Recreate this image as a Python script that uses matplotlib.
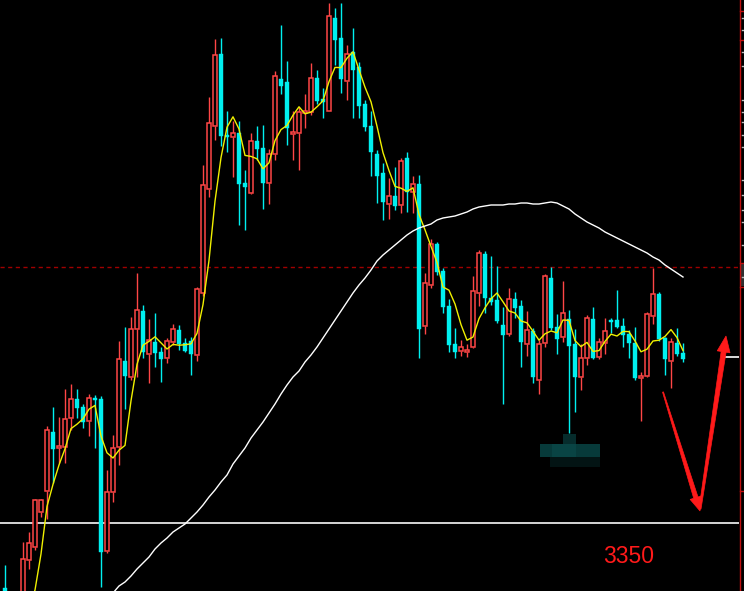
import numpy as np
import pandas as pd
import matplotlib
matplotlib.use("Agg")
import matplotlib.pyplot as plt
from matplotlib.patches import Polygon, Rectangle

# ---------------- data ----------------
opens = [3285, 3183, 3193, 3273, 3313, 3326, 3361, 3382, 3441, 3425,
         3426, 3455, 3474, 3466, 3452, 3475, 3474, 3322, 3381, 3426,
         3512, 3496, 3544, 3562, 3519, 3531, 3521, 3515, 3531, 3543,
         3530, 3532, 3518, 3580, 3684, 3747, 3819, 3738, 3736, 3740,
         3690, 3680, 3732, 3725, 3690, 3719, 3794, 3791, 3739, 3740,
         3760, 3761, 3795, 3774, 3762, 3855, 3835, 3792, 3821, 3806,
         3769, 3747, 3719, 3700, 3669, 3677, 3668, 3715, 3681, 3689,
         3547, 3588, 3629, 3602, 3567, 3529, 3522, 3521, 3526, 3580,
         3619, 3575, 3573, 3548, 3539, 3574, 3567, 3529, 3542, 3493,
         3530, 3595, 3546, 3536, 3554, 3529, 3496, 3515, 3554, 3516,
         3530, 3553, 3553, 3547, 3539, 3530, 3495, 3497, 3557, 3579,
         3535, 3512, 3530, 3520]
highs = [3308, 3197, 3213, 3331, 3341, 3374, 3374, 3447, 3466, 3456,
         3484, 3489, 3484, 3469, 3479, 3478, 3477, 3403, 3438, 3532,
         3546, 3556, 3600, 3568, 3554, 3560, 3526, 3535, 3549, 3548,
         3535, 3536, 3586, 3708, 3776, 3834, 3835, 3762, 3752, 3752,
         3703, 3740, 3747, 3748, 3724, 3802, 3848, 3812, 3762, 3766,
         3779, 3810, 3803, 3785, 3870, 3865, 3870, 3828, 3845, 3811,
         3773, 3762, 3723, 3710, 3695, 3706, 3715, 3721, 3697, 3698,
         3600, 3634, 3631, 3605, 3574, 3545, 3533, 3529, 3597, 3623,
         3622, 3617, 3607, 3566, 3585, 3581, 3573, 3562, 3545, 3533,
         3599, 3606, 3559, 3592, 3563, 3544, 3529, 3558, 3566, 3535,
         3555, 3555, 3583, 3555, 3543, 3546, 3501, 3561, 3605, 3581,
         3536, 3535, 3545, 3530]
lows = [3273, 3178, 3185, 3268, 3304, 3323, 3356, 3354, 3390, 3410,
        3410, 3443, 3455, 3445, 3437, 3425, 3286, 3320, 3371, 3408,
        3464, 3493, 3496, 3515, 3490, 3506, 3491, 3510, 3528, 3523,
        3521, 3498, 3512, 3577, 3676, 3733, 3727, 3721, 3696, 3648,
        3643, 3679, 3713, 3664, 3669, 3713, 3779, 3728, 3713, 3703,
        3745, 3758, 3769, 3755, 3762, 3808, 3780, 3773, 3755, 3755,
        3742, 3697, 3670, 3653, 3654, 3663, 3660, 3661, 3660, 3515,
        3539, 3585, 3598, 3560, 3521, 3515, 3517, 3516, 3525, 3567,
        3560, 3568, 3550, 3469, 3537, 3555, 3506, 3517, 3490, 3479,
        3526, 3543, 3519, 3531, 3440, 3461, 3483, 3508, 3514, 3514,
        3519, 3540, 3545, 3526, 3515, 3493, 3452, 3496, 3549, 3532,
        3498, 3485, 3517, 3511]
closes = [3277, 3193, 3205, 3314, 3330, 3373, 3373, 3443, 3424, 3427,
          3454, 3474, 3465, 3451, 3475, 3473, 3321, 3381, 3425, 3514,
          3497, 3544, 3563, 3521, 3533, 3520, 3514, 3532, 3544, 3529,
          3522, 3519, 3584, 3688, 3750, 3818, 3737, 3736, 3740, 3689,
          3686, 3732, 3724, 3690, 3719, 3797, 3787, 3745, 3741, 3761,
          3762, 3795, 3772, 3771, 3857, 3833, 3794, 3819, 3803, 3767,
          3746, 3721, 3697, 3671, 3677, 3667, 3712, 3681, 3689, 3544,
          3590, 3629, 3601, 3566, 3528, 3521, 3526, 3523, 3582, 3620,
          3575, 3571, 3552, 3538, 3574, 3565, 3531, 3543, 3496, 3529,
          3597, 3545, 3534, 3560, 3527, 3496, 3515, 3555, 3515, 3531,
          3542, 3551, 3546, 3538, 3530, 3495, 3497, 3559, 3579, 3534,
          3514, 3531, 3519, 3514]

# long moving average (white line), starting at candle 18
ma_long_start = 18
ma_long = [3280, 3287, 3291, 3297, 3304, 3310, 3316, 3324, 3330, 3335,
           3341, 3345, 3349, 3355, 3361, 3368, 3376, 3383, 3391, 3398,
           3409, 3417, 3425, 3435, 3443, 3451, 3460, 3469, 3479, 3488,
           3496, 3502, 3511, 3518, 3526, 3535, 3544, 3553, 3562, 3571,
           3580, 3588, 3595, 3603, 3612, 3618, 3623, 3628, 3633, 3638,
           3642, 3645, 3647, 3649, 3653, 3655, 3656, 3657, 3659, 3661,
           3664, 3666, 3667, 3668, 3668, 3668, 3669, 3669, 3670, 3670,
           3669, 3669, 3670, 3671, 3670, 3667, 3664, 3659, 3655, 3651,
           3648, 3645, 3641, 3638, 3635, 3632, 3629, 3626, 3623, 3620,
           3616, 3613, 3608, 3604, 3600, 3596]

dashed_level = 3606
target_level = 3350
last_price_level = 3516
target_label = "3350"

# ---------------- figure ----------------
W, H = 744, 591
fig = plt.figure(figsize=(W / 100, H / 100), dpi=100, facecolor="black")
ax = fig.add_axes([0, 0, 739 / W, 1])
ax.set_facecolor("black")
ax.set_axis_off()

n = len(opens)
x = np.arange(n)
o = np.array(opens, float)
h = np.array(highs, float)
l = np.array(lows, float)
c = np.array(closes, float)

UP = "#ff4646"
DN = "#00f0f0"

up = c >= o
top = np.maximum(o, c)
bot = np.minimum(o, c)

# wicks
ax.vlines(x[~up], l[~up], h[~up], color=DN, lw=1.0, zorder=2)
ax.vlines(x[up], top[up], h[up], color=UP, lw=1.0, zorder=2)
ax.vlines(x[up], l[up], bot[up], color=UP, lw=1.0, zorder=2)

# bodies
hgt = np.maximum(top - bot, 1.2)
ax.bar(x[~up], hgt[~up], bottom=bot[~up], width=0.82, color=DN,
       edgecolor=DN, linewidth=0.3, zorder=3)
ax.bar(x[up], hgt[up], bottom=bot[up], width=0.72, facecolor="black",
       edgecolor=UP, linewidth=1.1, zorder=3)

# short MA (5) in yellow
ma5 = pd.Series(c).rolling(5).mean()
ax.plot(x, ma5, color="#f0f000", lw=1.0, zorder=4)

# long MA in white
xl = np.arange(ma_long_start, ma_long_start + len(ma_long))
ax.plot(xl, ma_long, color="white", lw=1.0, zorder=4)

# horizontal levels
ax.axhline(dashed_level, color="#a00000", lw=1.0, ls=(0, (3, 2.5)), zorder=1)
ax.axhline(target_level, color="#e6e6e6", lw=1.3, zorder=1)
ax.hlines(last_price_level, 119.6, 122.4, color="white", lw=1.2, zorder=1)

ax.set_xlim(-5 / 6, 734 / 6)
ax.set_ylim(3282, 3873)

ax.text(103.9, 3316, target_label, color="#ff1a1a", fontsize=16.5,
        family="Liberation Sans", ha="center", va="center", zorder=6)

# ---------------- decorations in figure pixels ----------------
def fp(px, py):
    return (px / W, 1 - py / H)

def tapered_arrow(p0, p1, w0, w1, head_len, head_w, color):
    p0 = np.array(p0, float)
    p1 = np.array(p1, float)
    d = p1 - p0
    L = np.hypot(*d)
    u = d / L
    nrm = np.array([-u[1], u[0]])
    base = p1 - u * head_len
    pts = [p0 + nrm * w0 / 2, base + nrm * w1 / 2, base + nrm * head_w / 2,
           p1, base - nrm * head_w / 2, base - nrm * w1 / 2, p0 - nrm * w0 / 2]
    poly = Polygon([fp(*q) for q in pts], closed=True, transform=fig.transFigure,
                   facecolor=color, edgecolor=color, lw=0.5, zorder=10)
    fig.patches.append(poly)

tapered_arrow((663, 392), (700, 511), 1.0, 4.5, 14, 12, "#ff1a1a")
tapered_arrow((700, 509), (726, 336), 2.0, 5.0, 16, 13, "#ff1a1a")

# blurred watermark blocks
for (x0, y0, x1, y1, col) in [(540, 444, 600, 457, "#073a3a"),
                              (552, 444, 576, 457, "#094444"),
                              (563, 434, 576, 444, "#062c2c"),
                              (550, 457, 600, 467, "#031414")]:
    fig.patches.append(Rectangle(fp(x0, y1), (x1 - x0) / W, (y1 - y0) / H,
                                 transform=fig.transFigure, facecolor=col,
                                 edgecolor="none", zorder=9))

# right-hand price strip
fig.add_artist(plt.Line2D([739.5 / W, 739.5 / W], [0, 1], transform=fig.transFigure,
                          color="#c01010", lw=1.0))
for ty in [11, 40, 263, 287, 491]:
    fig.add_artist(plt.Line2D([739.5 / W, 1], [1 - ty / H, 1 - ty / H],
                              transform=fig.transFigure, color="#c01010", lw=1.0))
fig.patches.append(Rectangle(fp(741, 286), 3 / W, 22 / H, transform=fig.transFigure,
                             facecolor="#303030", edgecolor="none"))
for ty in [18, 30, 52, 66, 100, 112, 122, 135, 147, 180, 195, 210, 222, 245, 277]:
    fig.add_artist(plt.Line2D([742 / W, 744 / W], [1 - ty / H, 1 - ty / H],
                              transform=fig.transFigure, color="#bbbbbb", lw=1.0))

fig.savefig("out.png", dpi=100, facecolor="black")
